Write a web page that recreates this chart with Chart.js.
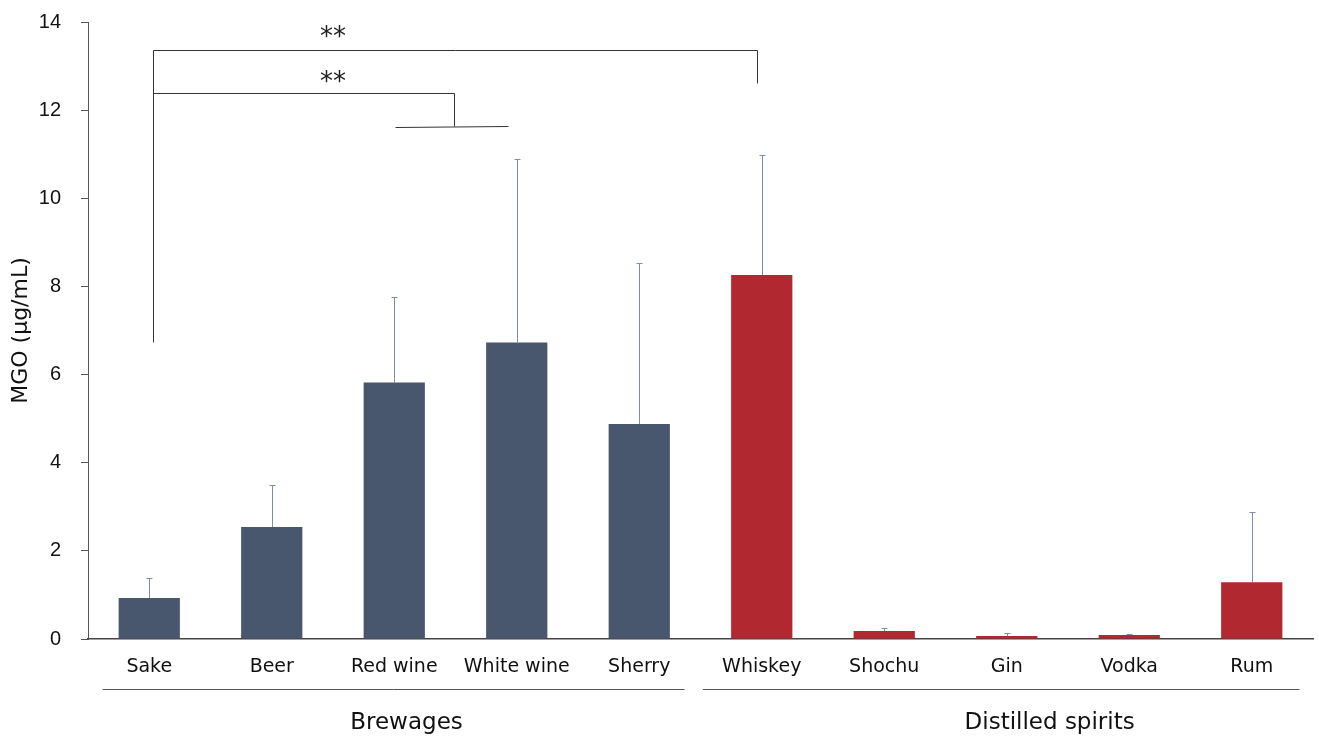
<!DOCTYPE html>
<html>
<head>
<meta charset="utf-8">
<script src="https://cdn.jsdelivr.net/npm/chart.js@4.4.1/dist/chart.umd.min.js"></script>
<style>
  html, body { margin: 0; padding: 0; background: #fff; }
  #wrap { width: 1319px; height: 737px; }
</style>
</head>
<body>
<div id="wrap"><canvas id="mgoChart" width="1319" height="737"></canvas></div>

<script type="text/javascript">
// drinks and their mean MGO
var drinks = ['Sake', 'Beer', 'Red wine', 'White wine', 'Sherry', 'Whiskey', 'Shochu', 'Gin', 'Vodka', 'Rum'];
var meanMGO = [0.93, 2.54, 5.82, 6.73, 4.88, 8.26, 0.18, 0.07, 0.09, 1.29];
// top of the error bar (mean + SD)
var errTop = [1.38, 3.49, 7.76, 10.90, 8.53, 10.98, 0.25, 0.14, 0.11, 2.88];
var yTicks = [0, 2, 4, 6, 8, 10, 12, 14];

// groups under the axis
var groupNames = ['Brewages', 'Distilled spirits'];
var groupFrom = [-0.38, 4.52];
var groupTo = [4.37, 9.39];
var groupLabelAt = [2.1, 7.35];

var brewColor = '#48566e';
var spiritColor = '#b22830';
var barColors = drinks.map(function(d, i) { return i < 5 ? brewColor : spiritColor; });

// errorbars drawn on top of the bars
var errorBars = {
    id: 'errorBars',
    afterDatasetsDraw: function(chart) {
        var ctx = chart.ctx;
        var y = chart.scales.y;
        var meta = chart.getDatasetMeta(0);
        ctx.save();
        ctx.strokeStyle = '#7d8ea6';
        ctx.lineWidth = 1;
        meta.data.forEach(function(bar, i) {
            var x = Math.round(bar.x) + 0.5;
            var yTop = Math.round(y.getPixelForValue(errTop[i])) + 0.5;
            ctx.beginPath();
            ctx.moveTo(x, bar.y);
            ctx.lineTo(x, yTop);
            ctx.moveTo(x - 3, yTop);
            ctx.lineTo(x + 3, yTop);
            ctx.stroke();
        });
        ctx.restore();
    }
};

// significance brackets + group labels
var extras = {
    id: 'extras',
    afterDraw: function(chart) {
        var ctx = chart.ctx;
        var xs = chart.scales.x, ys = chart.scales.y;
        var X = function(v) { return Math.round(xs.getPixelForValue(v)) + 0.5; };
        var Y = function(v) { return Math.round(ys.getPixelForValue(v)) + 0.5; };
        ctx.save();
        ctx.strokeStyle = '#333';
        ctx.lineWidth = 1;

        // sake vs whiskey
        ctx.beginPath();
        ctx.moveTo(X(0.03), Y(6.73));
        ctx.lineTo(X(0.03), Y(13.37));
        ctx.lineTo(X(4.96), Y(13.37));
        ctx.lineTo(X(4.96), Y(12.62));
        ctx.stroke();

        // sake vs wines
        ctx.beginPath();
        ctx.moveTo(X(0.03), Y(12.39));
        ctx.lineTo(X(2.49), Y(12.39));
        ctx.lineTo(X(2.49), Y(11.64));
        ctx.moveTo(X(2.01), Y(11.62));
        ctx.lineTo(X(2.93), Y(11.64));
        ctx.stroke();

        ctx.fillStyle = '#222';
        ctx.font = '26px "DejaVu Sans"';
        ctx.textAlign = 'center';
        ctx.textBaseline = 'middle';
        ctx.fillText('**', xs.getPixelForValue(1.5), ys.getPixelForValue(13.62));
        ctx.fillText('**', xs.getPixelForValue(1.5), ys.getPixelForValue(12.62));

        // group lines
        var base = chart.chartArea.bottom;
        ctx.strokeStyle = '#555';
        ctx.font = '23px "DejaVu Sans"';
        ctx.fillStyle = '#111';
        for (var g = 0; g < groupNames.length; g++) {
            ctx.beginPath();
            ctx.moveTo(xs.getPixelForValue(groupFrom[g]), base + 50.5);
            ctx.lineTo(xs.getPixelForValue(groupTo[g]), base + 50.5);
            ctx.stroke();
            ctx.fillText(groupNames[g], xs.getPixelForValue(groupLabelAt[g]), base + 84);
        }
        ctx.restore();
    }
};

var ctx = document.getElementById('mgoChart');
var myChart = new Chart(ctx, {
    type: 'bar',
    data: {
        labels: drinks,
        datasets: [{
            label: 'MGO',
            data: meanMGO,
            backgroundColor: barColors,
            barPercentage: 0.5,
            categoryPercentage: 1.0
        }]
    },
    options: {
        responsive: false,
        animation: false,
        layout: { padding: { top: 22, right: 6, left: 0, bottom: 0 } },
        plugins: {
            legend: { display: false },
            tooltip: { enabled: false }
        },
        scales: {
            x: {
                grid: { display: false, drawTicks: false },
                border: { display: true, color: '#444', width: 1.5 },
                ticks: {
                    color: '#111',
                    padding: 17,
                    font: { family: '"DejaVu Sans"', size: 19 }
                },
                afterFit: function(scale) { scale.height = 98; }
            },
            y: {
                min: 0,
                max: 14,
                afterBuildTicks: function(scale) {
                    scale.ticks = yTicks.map(function(v) { return { value: v }; });
                },
                grid: { drawOnChartArea: false, drawTicks: true, tickLength: 7, color: '#555' },
                border: { display: true, color: '#555' },
                ticks: {
                    color: '#111',
                    padding: 20,
                    font: { family: '"Liberation Sans"', size: 20 }
                },
                title: {
                    display: true,
                    text: 'MGO (μg/mL)',
                    color: '#111',
                    padding: { top: 8, bottom: 0 },
                    font: { family: '"DejaVu Sans"', size: 22 }
                },
                afterFit: function(scale) {
                    scale.width = 88;
                    scale.paddingTop = 0;
                    scale.paddingBottom = 0;
                }
            }
        }
    },
    plugins: [errorBars, extras]
});
</script>
</body>
</html>
